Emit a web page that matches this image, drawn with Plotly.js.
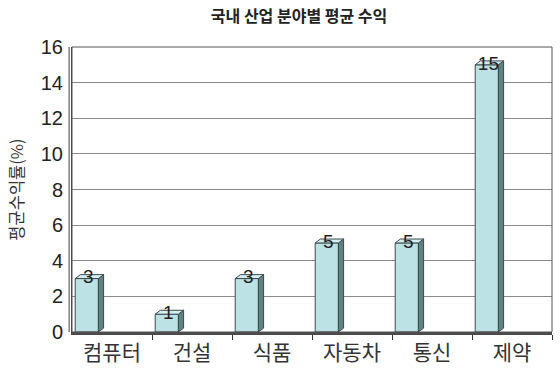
<!DOCTYPE html>
<html><head><meta charset="utf-8">
<script src="https://cdn.plot.ly/plotly-3.0.1.min.js"></script>
<style>body{margin:0;background:#fff}#c{width:560px;height:368px}</style>
</head><body><div id="c"></div>
<script>
const categories = ["컴퓨터", "건설", "식품", "자동차", "통신", "제약"];
const values = [3, 1, 3, 5, 5, 15];
const yTicks = [0, 2, 4, 6, 8, 10, 12, 14, 16];

const FRONT = '#bde2e5', SIDE = '#5f8282', TOP = '#d4eef0', EDGE = '#3a4a4a';
const off = 0.04, w = 0.29, dx = 0.065, dy = 0.22;
const pos = categories.map((c, i) => i);

const traces = [];
traces.push({
  type: 'bar', x: pos, y: values, base: 0, offset: off, width: w,
  marker: {color: FRONT, line: {color: EDGE, width: 1}},
  hoverinfo: 'skip', showlegend: false
});
values.forEach((v, i) => {
  const x1 = i + off, x2 = i + off + w;
  traces.push({
    type: 'scatter', mode: 'lines', fill: 'toself', fillcolor: SIDE,
    x: [x2, x2 + dx, x2 + dx, x2, x2], y: [0, dy, v + dy, v, 0],
    line: {color: EDGE, width: 1}, hoverinfo: 'skip', showlegend: false
  });
  traces.push({
    type: 'scatter', mode: 'lines', fill: 'toself', fillcolor: TOP,
    x: [x1, x1 + dx, x2 + dx, x2, x1], y: [v, v + dy, v + dy, v, v],
    line: {color: EDGE, width: 1}, hoverinfo: 'skip', showlegend: false
  });
});
traces.push({
  type: 'scatter', mode: 'text', x: pos.map(i => i + off + w / 2 + 0.02), y: values,
  text: values.map(String), textposition: 'middle center',
  textfont: {family: 'Liberation Sans, Arial, sans-serif', size: 19, color: '#222'},
  hoverinfo: 'skip', showlegend: false, cliponaxis: false
});

const layout = {
  width: 560, height: 368,
  margin: {l: 72, r: 8, t: 47, b: 36},
  paper_bgcolor: '#fff', plot_bgcolor: '#fff',
  title: {text: '<b>국내 산업 분야별 평균 수익</b>', x: 0.534, xanchor: 'center', y: 0.955, yanchor: 'middle',
    font: {family: 'Noto Sans CJK KR', size: 16, color: '#222'}},
  xaxis: {
    type: 'linear', range: [0, 6], tickvals: pos.map(i => i + 0.5), ticktext: categories,
    ticks: '', showgrid: false, zeroline: false,
    showline: true, linecolor: '#4a4a4a', linewidth: 3,
    tickfont: {family: 'Noto Sans CJK KR', size: 21, color: '#333'},
    minor: {tickvals: [1, 2, 3, 4, 5, 6], ticks: 'outside', ticklen: 5, tickcolor: '#333', showgrid: false}
  },
  yaxis: {
    range: [0, 16], tickvals: yTicks, ticks: '', showgrid: true, gridcolor: '#8a8a8a', gridwidth: 1,
    zeroline: false, showline: true, linecolor: '#444', linewidth: 1,
    tickfont: {family: 'Liberation Sans, Arial, sans-serif', size: 20, color: '#222'},
    ticklabelstandoff: 4,
    title: {text: '평균수익률(%)', standoff: 12, font: {family: 'Noto Sans CJK KR', size: 16.5, color: '#333'}}
  },
  shapes: [
    {type: 'rect', xref: 'paper', yref: 'paper', x0: 0, x1: 1, y0: 0, y1: 1, line: {color: '#555', width: 1}},
    {type: 'line', xref: 'paper', yref: 'paper', x0: -0.006, x1: -0.006, y0: 0, y1: 1, line: {color: '#444', width: 1}}
  ]
};
Plotly.newPlot('c', traces, layout, {displayModeBar: false, staticPlot: true});
</script></body></html>
